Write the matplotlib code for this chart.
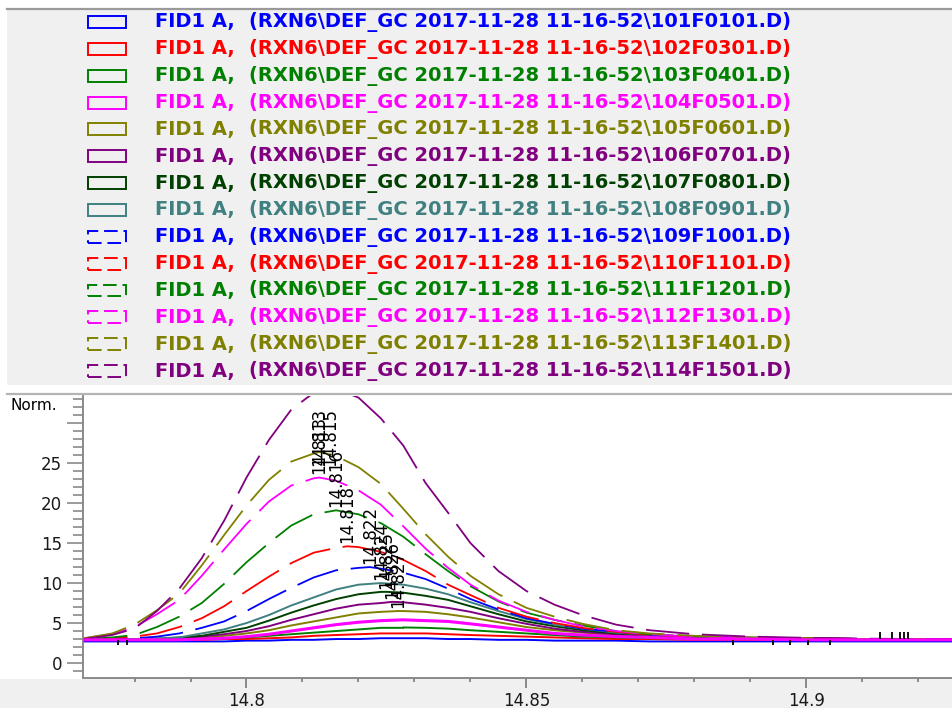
import matplotlib.pyplot as plt
from matplotlib.patches import Rectangle
from matplotlib.lines import Line2D
from matplotlib.ticker import MultipleLocator

# retention time grid (min) shared by all traces
rt = [14.771, 14.776, 14.780, 14.784, 14.788, 14.792, 14.796, 14.800, 14.804, 14.808,
      14.812, 14.816, 14.820, 14.824, 14.828, 14.832, 14.836, 14.840, 14.845, 14.850,
      14.855, 14.860, 14.866, 14.872, 14.880, 14.890, 14.900, 14.910, 14.920, 14.927]

sig101 = [2.7, 2.7, 2.7, 2.7, 2.7, 2.7, 2.7, 2.8, 2.8, 2.9, 2.9, 3.0, 3.0, 3.1, 3.1,
          3.1, 3.0, 3.0, 2.9, 2.9, 2.8, 2.8, 2.8, 2.7, 2.7, 2.7, 2.7, 2.7, 2.7, 2.7]
sig102 = [2.9, 2.9, 2.9, 2.9, 2.9, 2.9, 3.0, 3.0, 3.1, 3.2, 3.4, 3.5, 3.6, 3.7, 3.7,
          3.7, 3.6, 3.5, 3.4, 3.3, 3.2, 3.1, 3.0, 3.0, 2.9, 2.9, 2.9, 2.9, 2.9, 2.9]
sig103 = [3.0, 3.0, 3.0, 3.0, 3.0, 3.0, 3.1, 3.2, 3.4, 3.6, 3.8, 4.0, 4.2, 4.4, 4.4,
          4.4, 4.3, 4.1, 3.9, 3.7, 3.5, 3.3, 3.2, 3.1, 3.1, 3.0, 3.0, 3.0, 3.0, 3.0]
sig104 = [2.9, 2.9, 2.9, 2.9, 2.9, 3.0, 3.1, 3.3, 3.6, 4.0, 4.4, 4.8, 5.1, 5.3, 5.4,
          5.3, 5.2, 4.9, 4.5, 4.1, 3.7, 3.5, 3.3, 3.2, 3.0, 3.0, 2.9, 2.9, 2.9, 2.9]
sig105 = [3.0, 3.0, 3.0, 3.0, 3.1, 3.1, 3.4, 3.7, 4.1, 4.7, 5.2, 5.7, 6.2, 6.4, 6.5,
          6.4, 6.1, 5.7, 5.1, 4.5, 4.1, 3.8, 3.5, 3.3, 3.2, 3.1, 3.0, 3.0, 3.0, 3.0]
sig106 = [3.0, 3.0, 3.0, 3.0, 3.1, 3.3, 3.6, 4.0, 4.6, 5.4, 6.1, 6.8, 7.3, 7.5, 7.6,
          7.3, 6.9, 6.4, 5.6, 4.9, 4.3, 3.9, 3.6, 3.4, 3.2, 3.1, 3.1, 3.0, 3.0, 3.0]
sig107 = [3.0, 3.0, 3.0, 3.0, 3.2, 3.4, 3.9, 4.4, 5.3, 6.3, 7.2, 8.0, 8.6, 8.9, 8.8,
          8.4, 7.9, 7.1, 6.1, 5.2, 4.6, 4.1, 3.7, 3.5, 3.2, 3.1, 3.1, 3.0, 3.0, 3.0]
sig108 = [3.0, 3.0, 3.0, 3.1, 3.2, 3.7, 4.2, 5.0, 6.0, 7.2, 8.2, 9.2, 9.8, 10.0, 9.8,
          9.3, 8.6, 7.6, 6.5, 5.5, 4.8, 4.3, 3.8, 3.5, 3.3, 3.1, 3.1, 3.0, 3.0, 3.0]
sig109 = [3.0, 3.0, 3.1, 3.3, 3.7, 4.4, 5.2, 6.5, 8.0, 9.4, 10.7, 11.6, 11.9, 11.8, 11.3,
          10.5, 9.3, 8.0, 6.7, 5.6, 4.9, 4.3, 3.9, 3.5, 3.3, 3.1, 3.1, 3.0, 3.0, 3.0]
sig110 = [3.0, 3.1, 3.3, 3.7, 4.5, 5.6, 7.1, 9.0, 10.8, 12.5, 13.8, 14.4, 14.5, 13.9, 12.9,
          11.5, 9.8, 8.5, 6.9, 5.8, 5.0, 4.4, 3.9, 3.5, 3.3, 3.1, 3.1, 3.0, 3.0, 3.0]
sig111 = [3.0, 3.2, 3.5, 4.5, 5.8, 7.5, 9.9, 12.6, 15.0, 17.2, 18.6, 19.1, 18.6, 17.5, 15.8,
          13.6, 11.5, 9.6, 7.7, 6.3, 5.4, 4.7, 4.0, 3.6, 3.3, 3.2, 3.1, 3.0, 3.0, 3.0]
sig112 = [3.1, 3.6, 4.5, 6.1, 7.9, 10.9, 14.2, 17.4, 20.2, 22.2, 23.1, 22.8, 21.6, 19.8, 17.1,
          14.3, 11.9, 9.8, 7.8, 6.4, 5.4, 4.6, 4.0, 3.6, 3.3, 3.2, 3.1, 3.0, 3.0, 3.0]
sig113 = [3.1, 3.7, 4.8, 6.6, 8.7, 12.2, 16.0, 19.7, 22.9, 25.2, 26.2, 25.9, 24.5, 22.4, 19.3,
          16.1, 13.3, 10.9, 8.6, 6.9, 5.8, 4.9, 4.1, 3.7, 3.4, 3.2, 3.1, 3.0, 3.0, 3.0]
sig114 = [3.0, 3.5, 4.3, 6.5, 9.3, 13.1, 17.8, 23.2, 27.9, 31.7, 33.8, 34.3, 33.2, 30.6, 27.2,
          22.5, 18.8, 15.0, 11.5, 9.0, 7.3, 6.0, 4.8, 4.1, 3.6, 3.3, 3.15, 3.05, 3.0, 3.0]

signals = [sig101, sig102, sig103, sig104, sig105, sig106, sig107,
           sig108, sig109, sig110, sig111, sig112, sig113, sig114]

# peak apex for each run
apex_rt = [14.830, 14.829, 14.828, 14.828, 14.827, 14.826, 14.825,
           14.824, 14.822, 14.818, 14.816, 14.813, 14.813, 14.815]
apex_h = [3.1, 3.7, 4.45, 5.4, 6.5, 7.65, 8.9, 10.0, 12.0, 14.6, 19.1, 23.2, 26.4, 34.5]
labelled = [4, 5, 6, 7, 8, 9, 10, 11, 12, 13]

files = ["101F0101", "102F0301", "103F0401", "104F0501", "105F0601", "106F0701",
         "107F0801", "108F0901", "109F1001", "110F1101", "111F1201", "112F1301",
         "113F1401", "114F1501"]

palette = ['#0000ff', '#ff0000', '#008000', '#ff00ff', '#808000', '#800080', '#004000', '#408080']
colors = palette + palette[:6]

# integrator event marks on the baseline
marks_down = [14.7770, 14.7786, 14.8869, 14.8940, 14.8970, 14.9002, 14.9042]
marks_up = [14.9131, 14.9152, 14.9167, 14.9175, 14.9181]

W, H = 952, 708
fig = plt.figure(figsize=(W / 100, H / 100), dpi=100)
fig.patch.set_facecolor('white')


def fx(px):
    return px / W


def fy(py):
    return 1 - py / H


# panels
fig.patches.append(Rectangle((fx(7), fy(385)), (W - 7) / W, 376 / H, transform=fig.transFigure,
                             facecolor='#f0f0f0', edgecolor='none', zorder=-2))
fig.patches.append(Rectangle((0, 0), 1, (H - 679) / H, transform=fig.transFigure,
                             facecolor='#f0f0f0', edgecolor='none', zorder=-2))
fig.lines.append(Line2D([fx(7), 1], [fy(8.5), fy(8.5)], transform=fig.transFigure,
                        color='#9a9a9a', lw=1.6))
fig.lines.append(Line2D([fx(7), 1], [fy(393.5), fy(393.5)], transform=fig.transFigure,
                        color='#b4b4b4', lw=1.6))

# legend
row0, drow = 22, 26.85
for i, f in enumerate(files):
    yc = row0 + i * drow
    ls = '-' if i < 8 else (0, (7, 3))
    fig.patches.append(Rectangle((fx(88), fy(yc + 6)), 38 / W, 12 / H, transform=fig.transFigure,
                                 facecolor='none', edgecolor=colors[i], lw=1.4, linestyle=ls))
    fig.text(fx(155), fy(yc), "FID1 A,", color=colors[i], fontsize=14, fontweight='bold',
             family='DejaVu Sans', va='center')
    fig.text(fx(249), fy(yc), "(RXN6\\DEF_GC 2017-11-28 11-16-52\\" + f + ".D)", color=colors[i],
             fontsize=14, fontweight='bold', family='DejaVu Sans', va='center')

ax = fig.add_axes([fx(83), fy(678), (W - 83) / W, (678 - 396) / H])
ax.set_facecolor('white')

order = [0, 1, 2, 4, 5, 6, 7, 8, 9, 10, 11, 12, 13, 3]
for i in order:
    pts = sorted(zip(rt + [apex_rt[i]], signals[i] + [apex_h[i]]))
    xs = [p[0] for p in pts]
    ys = [p[1] for p in pts]
    if i < 8:
        ax.plot(xs, ys, color=colors[i], lw=1.4 if i != 3 else 2.2, zorder=2 + (i == 3))
    else:
        ax.plot(xs, ys, color=colors[i], lw=1.3, linestyle=(0, (24, 7)), zorder=2)

ax.vlines(marks_down, 2.2, 2.9, color='black', lw=1.3, zorder=4)
ax.vlines(marks_up, 3.0, 3.9, color='black', lw=1.3, zorder=4)

# retention time labels, kept inside the plot area
for i in labelled:
    ax.text(apex_rt[i], min(apex_h[i] + 0.4, 24.6), "%.3f" % apex_rt[i], rotation=90,
            ha='center', va='bottom', fontsize=12, family='DejaVu Sans', color='black', zorder=5)

ax.set_xlim(14.7708, 14.926)
ax.set_ylim(-1.875, 33.4)
ax.set_xticks([14.8, 14.85, 14.9], ["14.8", "14.85", "14.9"])
ax.xaxis.set_minor_locator(MultipleLocator(0.01))
ax.set_yticks([0, 5, 10, 15, 20, 25, 30], ["0", "5", "10", "15", "20", "25", ""])
ax.yaxis.set_minor_locator(MultipleLocator(1))

for s in ['top', 'right']:
    ax.spines[s].set_visible(False)
for s in ['left', 'bottom']:
    ax.spines[s].set_color('#8a8a8a')
    ax.spines[s].set_linewidth(1.4)

ax.tick_params(axis='y', which='major', length=11.5, width=1.2, color='#8a8a8a', pad=3.5,
               labelsize=12, labelcolor='#1a1a1a')
ax.tick_params(axis='y', which='minor', length=7, width=1.2, color='#8a8a8a')
ax.tick_params(axis='x', which='major', length=7, width=1.4, color='#8a8a8a', pad=3,
               labelsize=12, labelcolor='#1a1a1a')
ax.tick_params(axis='x', which='minor', length=3, width=1.4, color='#8a8a8a')

fig.text(fx(11), fy(406), "Norm.", fontsize=11, family='DejaVu Sans', color='black', va='center')

fig.savefig("out.png", dpi=100)
